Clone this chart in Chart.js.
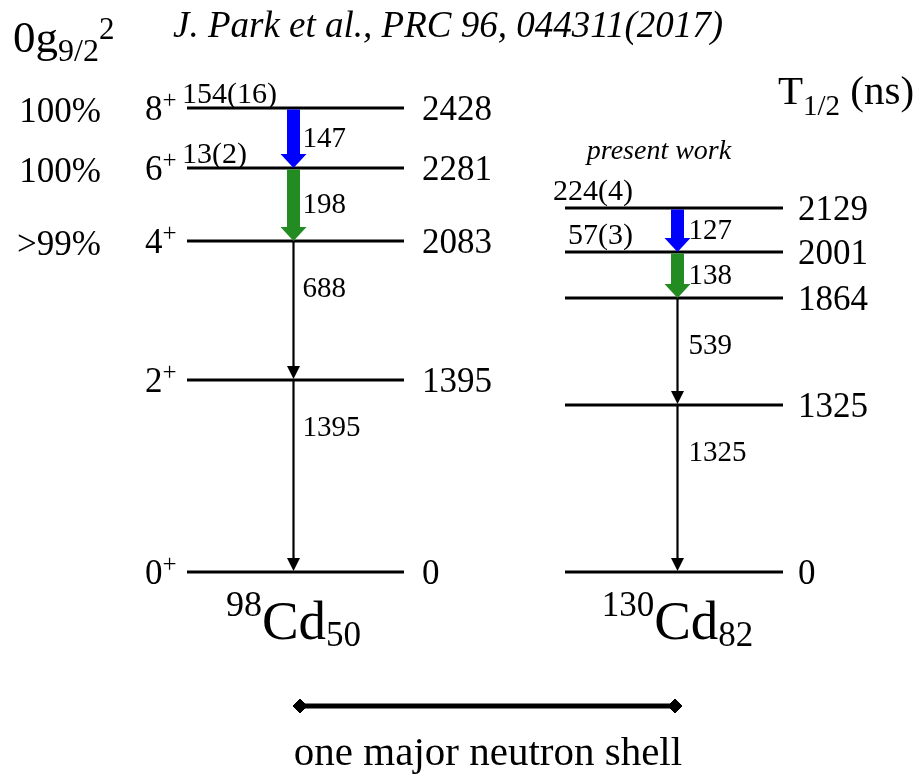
<!DOCTYPE html>
<html>
<head>
<meta charset="utf-8">
<script src="https://cdn.jsdelivr.net/npm/chart.js@4.4.1/dist/chart.umd.min.js"></script>
<style>
  html, body { margin: 0; padding: 0; background: #fff; }
  #wrap { width: 920px; height: 775px; position: relative; }
</style>
</head>
<body>
<div id="wrap"><canvas id="c" width="920" height="775"></canvas></div>
<script>
// Yrast levels of 98Cd (N=50) and 130Cd (N=82), energies in keV
const energies98  = [0, 1395, 2083, 2281, 2428];
const spins98     = ['0', '2', '4', '6', '8'];
const heights98   = [0, 192, 331, 404, 464];      // schematic drawing height of each level
const gammas98    = [1395, 688, 198, 147];        // transition from level i+1 down to level i
const halfLives98 = ['', '', '', '13(2)', '154(16)'];
const branching98 = ['', '', '>99%', '100%', '100%'];

const energies130  = [0, 1325, 1864, 2001, 2129];
const heights130   = [0, 167, 274, 320, 364];
const gammas130    = [1325, 539, 138, 127];
const halfLives130 = ['', '', '', '57(3)', '224(4)'];

const serif = '"Liberation Serif", "Times New Roman", serif';
const font = (size, italic) => (italic ? 'italic ' : '') + size + 'px ' + serif;

// layout of the two level schemes (in x-axis units)
const schemes = [
  { energies: energies98, heights: heights98, gammas: gammas98, halfLives: halfLives98,
    spins: spins98, branching: branching98,
    left: 187, right: 404, arrowX: 293.5, energyGap: 18, hlX: 182, hlAlign: 'left',
    hlRise: 15, gammaGap: 9,
    name: [{ text: '98', size: 36, dy: -23 }, { text: 'Cd', size: 55 }, { text: '50', size: 35, dy: 7 }] },
  { energies: energies130, heights: heights130, gammas: gammas130, halfLives: halfLives130,
    spins: null, branching: null,
    left: 565, right: 783, arrowX: 677.5, energyGap: 15, hlX: 633, hlAlign: 'right',
    hlRise: 18, gammaGap: 11,
    name: [{ text: '130', size: 35, dy: -23 }, { text: 'Cd', size: 55 }, { text: '82', size: 35, dy: 7 }] }
];

// the two uppermost transitions in each scheme are highlighted
const arrowColors = ['#000000', '#000000', '#228b22', '#0000ff'];

function drawRich(ctx, parts, x, baseY, align) {
  let w = 0;
  for (const p of parts) { ctx.font = font(p.size, p.italic); w += ctx.measureText(p.text).width; }
  let cx = align === 'center' ? x - w / 2 : align === 'right' ? x - w : x;
  ctx.textAlign = 'left';
  ctx.textBaseline = 'alphabetic';
  for (const p of parts) {
    ctx.font = font(p.size, p.italic);
    ctx.fillText(p.text, cx, baseY + (p.dy || 0));
    cx += ctx.measureText(p.text).width;
  }
}

// text centred vertically on y (digit height ~0.676 em)
function drawLabel(ctx, text, x, yMid, size, align, italic) {
  drawRich(ctx, [{ text, size, italic }], x, yMid + size * 0.335, align);
}

const datasets = [];
schemes.forEach(s => {
  s.heights.forEach(h => {
    datasets.push({
      data: [{ x: s.left, y: h }, { x: s.right, y: h }],
      showLine: true, borderColor: '#000', borderWidth: 3, pointRadius: 0, fill: false
    });
  });
});
// bracket under the two nuclei
datasets.push({
  data: [{ x: 300, y: -134 }, { x: 675, y: -134 }],
  showLine: true, borderColor: '#000', backgroundColor: '#000', borderWidth: 5,
  pointStyle: 'rectRot', pointRadius: 7, pointBorderWidth: 1
});

const schemePlugin = {
  id: 'scheme',
  afterDatasetsDraw(chart) {
    const ctx = chart.ctx;
    const xs = chart.scales.x, ys = chart.scales.y;
    ctx.save();
    ctx.fillStyle = '#000';

    schemes.forEach(s => {
      const ax = xs.getPixelForValue(s.arrowX);
      // transitions
      s.gammas.forEach((g, i) => {
        const yTop = ys.getPixelForValue(s.heights[i + 1]);
        const yBot = ys.getPixelForValue(s.heights[i]);
        const col = arrowColors[i];
        if (col !== '#000000') {
          const sw = 6.5, hw = 13, hl = 14;
          ctx.fillStyle = col;
          ctx.beginPath();
          ctx.moveTo(ax - sw, yTop + 1.5);
          ctx.lineTo(ax + sw, yTop + 1.5);
          ctx.lineTo(ax + sw, yBot - hl);
          ctx.lineTo(ax + hw, yBot - hl);
          ctx.lineTo(ax, yBot);
          ctx.lineTo(ax - hw, yBot - hl);
          ctx.lineTo(ax - sw, yBot - hl);
          ctx.closePath();
          ctx.fill();
        } else {
          ctx.strokeStyle = '#000';
          ctx.lineWidth = 2.2;
          ctx.beginPath();
          ctx.moveTo(ax, yTop);
          ctx.lineTo(ax, yBot - 10);
          ctx.stroke();
          ctx.fillStyle = '#000';
          ctx.beginPath();
          ctx.moveTo(ax - 6.5, yBot - 14);
          ctx.lineTo(ax + 6.5, yBot - 14);
          ctx.lineTo(ax, yBot - 1);
          ctx.closePath();
          ctx.fill();
        }
        ctx.fillStyle = '#000';
        const gap = yBot - yTop;
        const yl = yTop + Math.min(gap / 2 - 1, 46);
        drawLabel(ctx, String(g), ax + s.gammaGap, yl, 29, 'left');
      });

      // level energies, spins, half-lives, branchings
      s.energies.forEach((e, i) => {
        const y = ys.getPixelForValue(s.heights[i]);
        drawLabel(ctx, String(e), xs.getPixelForValue(s.right + s.energyGap), y, 35, 'left');
        if (s.spins) {
          drawRich(ctx, [{ text: s.spins[i], size: 35 }, { text: '+', size: 25, dy: -12 }],
            xs.getPixelForValue(s.left - 42), y + 35 * 0.335, 'left');
        }
        if (s.halfLives[i]) {
          drawLabel(ctx, s.halfLives[i], xs.getPixelForValue(s.hlX), y - s.hlRise, 30, s.hlAlign);
        }
        if (s.branching && s.branching[i]) {
          drawLabel(ctx, s.branching[i], xs.getPixelForValue(101), y + 2, 35, 'right');
        }
      });

      // nucleus name
      drawRich(ctx, s.name, ax, ys.getPixelForValue(-67), 'center');
    });

    // headings and annotations
    drawRich(ctx, [{ text: 'J. Park et al., PRC 96, 044311(2017)', size: 37, italic: true }],
      xs.getPixelForValue(173), 37, 'left');
    drawRich(ctx, [{ text: '0g', size: 45 }, { text: '9/2', size: 32, dy: 9 }, { text: '2', size: 31, dy: -13 }],
      xs.getPixelForValue(13), 52, 'left');
    drawRich(ctx, [{ text: 'T', size: 41 }, { text: '1/2', size: 29, dy: 11 }, { text: ' (ns)', size: 41 }],
      xs.getPixelForValue(778), 104, 'left');
    drawLabel(ctx, 'present work', xs.getPixelForValue(659), 150, 28, 'center', true);
    drawRich(ctx, [{ text: 'one major neutron shell', size: 41 }],
      xs.getPixelForValue(488), 765, 'center');

    ctx.restore();
  }
};

new Chart(document.getElementById('c'), {
  type: 'scatter',
  data: { datasets },
  options: {
    responsive: false,
    animation: false,
    events: [],
    layout: { padding: 0, autoPadding: false },
    plugins: { legend: { display: false }, tooltip: { enabled: false } },
    scales: {
      x: { type: 'linear', min: 0, max: 920, display: false },
      y: { type: 'linear', min: -203, max: 572, display: false }
    }
  },
  plugins: [schemePlugin]
});
</script>
</body>
</html>
